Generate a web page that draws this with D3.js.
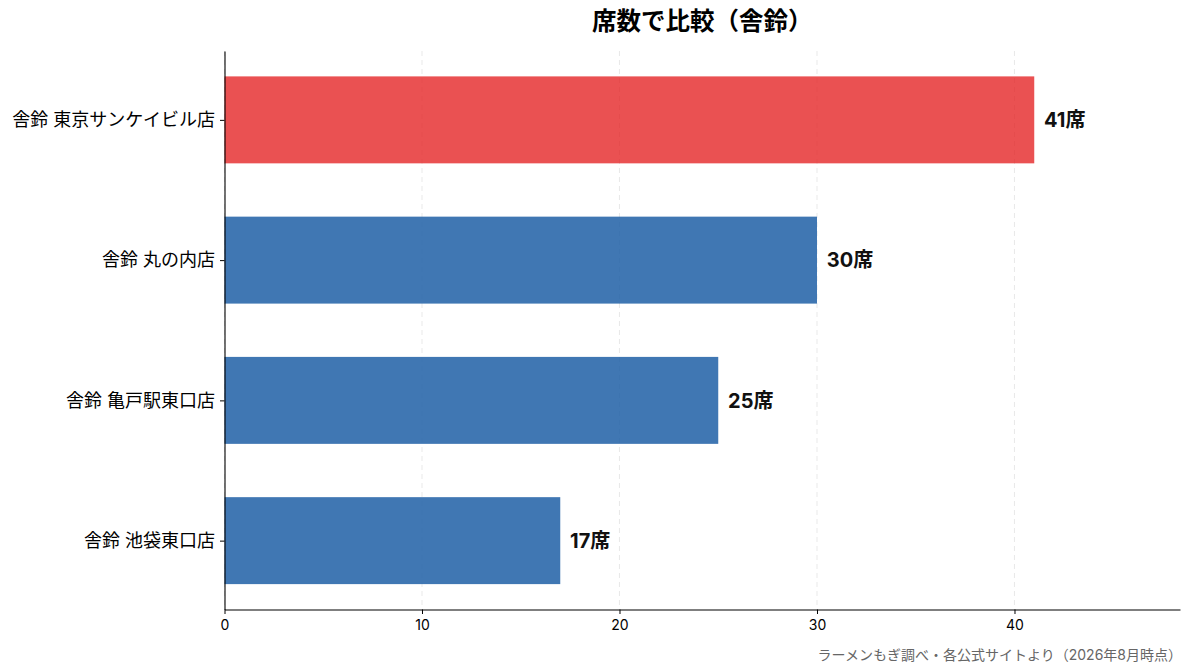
<!DOCTYPE html>
<html>
<head>
<meta charset="utf-8">
<script src="https://cdn.jsdelivr.net/npm/d3@7"></script>
<style>
  body { margin: 0; background: #fff; }
  svg text { font-family: Inter, "Noto Sans CJK JP", "Noto Sans", sans-serif; }
</style>
</head>
<body>
<svg id="chart" width="1193" height="672"></svg>
<script>
// data
var stores = ["舎鈴 東京サンケイビル店", "舎鈴 丸の内店", "舎鈴 亀戸駅東口店", "舎鈴 池袋東口店"];
var seats = [41, 30, 25, 17];
var xTicks = [0, 10, 20, 30, 40];

var titleText = "席数で比較（舎鈴）";
var sourceText = "ラーメンもぎ調べ・各公式サイトより（2026年8月時点）";

var svg = d3.select("#chart");
var margin = { top: 51, right: 13, bottom: 62.5, left: 224.5 };
var width = 1193 - margin.left - margin.right;
var height = 672 - margin.top - margin.bottom;

var maxVal = d3.max(seats);
var x = d3.scaleLinear()
    .domain([0, maxVal * 1.18])
    .range([0, width]);

// index scale, bar height in index units plus 5% margin
var barUnits = 0.62;
var pad = 0.05 * (stores.length - 1 + barUnits);
var y = d3.scaleLinear()
    .domain([-barUnits / 2 - pad, stores.length - 1 + barUnits / 2 + pad])
    .range([0, height]);
var barH = y(barUnits) - y(0);

var g = svg.append("g")
    .attr("transform", "translate(" + margin.left + "," + margin.top + ")");

// grid
g.selectAll(".grid")
    .data(xTicks)
    .enter()
    .append("line")
    .attr("x1", (d) => x(d))
    .attr("x2", (d) => x(d))
    .attr("y1", 0)
    .attr("y2", height)
    .style("stroke", "#d9d9d9")
    .style("stroke-dasharray", "5,4")
    .style("stroke-width", 0.8)
    .style("opacity", 0.7);

// bars
g.selectAll(".bar")
    .data(seats)
    .enter()
    .append("rect")
    .attr("x", 0)
    .attr("y", (d, i) => y(i) - barH / 2)
    .attr("width", (d) => x(d))
    .attr("height", barH)
    .style("fill", (d, i) => i === 0 ? "#e41a1c" : "#1f5fa6")
    .style("fill-opacity", (d, i) => i === 0 ? 0.76 : 0.85);

// value labels
g.selectAll(".val")
    .data(seats)
    .enter()
    .append("text")
    .attr("x", (d) => x(d + 0.5))
    .attr("y", (d, i) => y(i))
    .attr("dy", "0.36em")
    .style("font-size", "20px")
    .style("font-weight", "bold")
    .style("fill", "#111")
    .text((d) => d + "席");

// x axis
var xAxis = g.append("g")
    .attr("transform", "translate(0," + height + ")")
    .call(d3.axisBottom(x).tickValues(xTicks).tickSize(4.5).tickPadding(6.5).tickSizeOuter(0));
xAxis.select(".domain").style("stroke", "#000").style("stroke-width", 1.1);
xAxis.selectAll("text").style("font-size", "14px").style("fill", "#000");

// y axis
var yAxis = g.append("g")
    .call(d3.axisLeft(y).tickValues(d3.range(stores.length)).tickFormat((i) => stores[i])
        .tickSize(4.5).tickPadding(5).tickSizeOuter(0));
yAxis.select(".domain").style("stroke", "#000").style("stroke-width", 1.1);
yAxis.selectAll("text").style("font-size", "18px").style("fill", "#000");

// title
svg.append("text")
    .attr("x", margin.left + width / 2)
    .attr("y", 30)
    .attr("text-anchor", "middle")
    .style("font-size", "24.5px")
    .style("font-weight", "bold")
    .style("fill", "#000")
    .text(titleText);

// source note
svg.append("text")
    .attr("x", 1182)
    .attr("y", 660)
    .attr("text-anchor", "end")
    .style("font-size", "14px")
    .style("fill", "#666")
    .text(sourceText);
</script>
</body>
</html>
